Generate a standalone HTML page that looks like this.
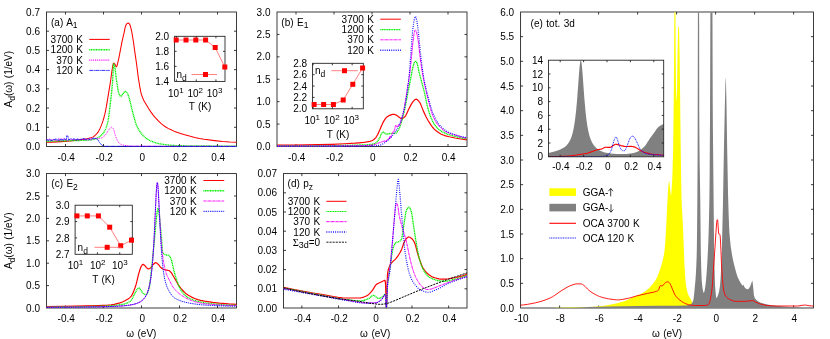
<!DOCTYPE html>
<html><head><meta charset="utf-8"><title>fig</title>
<style>html,body{margin:0;padding:0;background:#fff;}svg{display:block;will-change:transform;font-family:"Liberation Sans",sans-serif;}text{fill:#000;word-spacing:0.7px;}</style>
</head><body>
<svg width="830" height="339" viewBox="0 0 830 339">
<rect width="830" height="339" fill="#fff"/>
<rect x="46.50" y="12.00" width="190.00" height="134.50" fill="none" stroke="#1a1a1a" stroke-width="0.85"/>
<path d="M65.50,146.50 v-2.50" stroke="#1a1a1a" stroke-width="0.85"/>
<path d="M65.50,12.00 v2.50" stroke="#1a1a1a" stroke-width="0.85"/>
<text x="66.20" y="160.70" text-anchor="middle" font-size="10">-0.4</text>
<path d="M103.50,146.50 v-2.50" stroke="#1a1a1a" stroke-width="0.85"/>
<path d="M103.50,12.00 v2.50" stroke="#1a1a1a" stroke-width="0.85"/>
<text x="104.20" y="160.70" text-anchor="middle" font-size="10">-0.2</text>
<path d="M141.50,146.50 v-2.50" stroke="#1a1a1a" stroke-width="0.85"/>
<path d="M141.50,12.00 v2.50" stroke="#1a1a1a" stroke-width="0.85"/>
<text x="142.20" y="160.70" text-anchor="middle" font-size="10">0</text>
<path d="M179.50,146.50 v-2.50" stroke="#1a1a1a" stroke-width="0.85"/>
<path d="M179.50,12.00 v2.50" stroke="#1a1a1a" stroke-width="0.85"/>
<text x="180.20" y="160.70" text-anchor="middle" font-size="10">0.2</text>
<path d="M217.50,146.50 v-2.50" stroke="#1a1a1a" stroke-width="0.85"/>
<path d="M217.50,12.00 v2.50" stroke="#1a1a1a" stroke-width="0.85"/>
<text x="218.20" y="160.70" text-anchor="middle" font-size="10">0.4</text>
<text x="40.00" y="150.10" text-anchor="end" font-size="10">0.0</text>
<path d="M46.50,127.29 h2.50" stroke="#1a1a1a" stroke-width="0.85"/>
<path d="M236.50,127.29 h-2.50" stroke="#1a1a1a" stroke-width="0.85"/>
<text x="40.00" y="130.89" text-anchor="end" font-size="10">0.1</text>
<path d="M46.50,108.07 h2.50" stroke="#1a1a1a" stroke-width="0.85"/>
<path d="M236.50,108.07 h-2.50" stroke="#1a1a1a" stroke-width="0.85"/>
<text x="40.00" y="111.67" text-anchor="end" font-size="10">0.2</text>
<path d="M46.50,88.86 h2.50" stroke="#1a1a1a" stroke-width="0.85"/>
<path d="M236.50,88.86 h-2.50" stroke="#1a1a1a" stroke-width="0.85"/>
<text x="40.00" y="92.46" text-anchor="end" font-size="10">0.3</text>
<path d="M46.50,69.64 h2.50" stroke="#1a1a1a" stroke-width="0.85"/>
<path d="M236.50,69.64 h-2.50" stroke="#1a1a1a" stroke-width="0.85"/>
<text x="40.00" y="73.24" text-anchor="end" font-size="10">0.4</text>
<path d="M46.50,50.43 h2.50" stroke="#1a1a1a" stroke-width="0.85"/>
<path d="M236.50,50.43 h-2.50" stroke="#1a1a1a" stroke-width="0.85"/>
<text x="40.00" y="54.03" text-anchor="end" font-size="10">0.5</text>
<path d="M46.50,31.21 h2.50" stroke="#1a1a1a" stroke-width="0.85"/>
<path d="M236.50,31.21 h-2.50" stroke="#1a1a1a" stroke-width="0.85"/>
<text x="40.00" y="34.81" text-anchor="end" font-size="10">0.6</text>
<text x="40.00" y="15.60" text-anchor="end" font-size="10">0.7</text>
<path d="M46.50,142.27 51.49,142.12 56.95,141.86 64.79,141.36 70.25,140.94 74.76,140.51 79.04,140.00 83.31,139.39 86.88,138.78 88.78,138.36 90.68,137.82 92.57,137.12 93.53,136.65 94.47,135.98 95.66,134.93 96.85,133.65 98.04,132.17 98.99,130.59 99.94,128.65 101.12,125.88 102.07,123.43 103.03,120.63 103.74,118.27 104.69,114.73 105.40,111.74 106.35,106.71 109.91,85.14 110.86,79.04 112.05,70.01 112.76,65.93 113.24,63.71 113.47,63.16 113.71,63.13 114.19,63.40 114.66,63.83 114.90,64.12 115.14,64.55 115.85,66.13 116.09,66.52 116.33,66.74 116.56,66.70 116.80,66.34 117.04,65.73 117.51,63.95 118.70,58.79 122.03,41.67 124.16,32.27 125.11,27.66 125.35,26.77 125.83,25.50 126.54,24.10 126.77,23.83 127.49,23.31 127.96,23.11 128.20,23.09 128.68,23.26 129.15,23.69 129.62,24.27 130.10,25.24 130.57,26.79 131.29,29.64 132.00,33.07 133.43,41.79 134.85,52.16 136.51,63.50 138.41,78.40 140.07,88.48 140.79,91.96 141.26,93.84 141.98,96.01 142.93,98.42 144.11,100.92 145.30,103.03 148.62,108.49 151.00,112.10 153.38,115.32 155.51,117.84 158.60,121.09 161.21,123.56 163.82,125.70 166.20,127.29 168.10,128.36 170.00,129.33 174.04,131.14 178.31,132.73 183.78,134.46 189.48,136.09 194.70,137.41 199.45,138.42 204.20,139.23 214.65,140.61 222.72,141.50 229.85,142.04 236.50,142.27" fill="none" stroke="#ff0000" stroke-width="1.05" stroke-linejoin="round"/>
<path d="M46.50,141.31 64.31,140.77 84.26,140.36 88.54,140.12 92.34,139.71 93.76,139.45 94.95,139.10 96.14,138.62 97.56,137.89 98.99,136.99 100.41,135.92 101.84,134.70 103.03,133.53 103.97,132.23 104.69,130.96 105.40,129.43 106.11,127.63 107.06,124.79 107.78,122.31 108.49,118.52 109.44,111.31 111.34,94.75 112.05,87.98 112.76,79.30 113.24,68.22 113.47,64.30 113.71,63.93 113.95,64.18 114.42,65.07 114.66,66.02 115.14,69.15 116.33,79.13 117.51,86.95 118.22,91.10 118.70,93.11 118.94,93.79 119.65,95.26 120.12,95.98 120.36,96.21 120.60,96.34 120.84,96.34 121.08,96.23 121.55,95.79 122.74,94.08 124.16,92.20 124.64,91.65 124.88,91.47 125.11,91.37 125.35,91.36 125.83,91.53 126.54,92.10 127.25,92.90 127.49,93.31 127.96,94.44 129.39,98.83 130.34,102.46 132.24,110.50 134.38,118.57 135.56,122.65 136.51,125.19 137.70,127.68 138.89,129.87 140.07,131.77 141.26,133.41 142.45,134.80 144.11,136.45 145.77,137.89 147.44,139.12 149.57,140.39 151.95,141.46 154.80,142.54 157.65,143.38 160.03,143.88 164.30,144.50 168.57,145.02 172.61,145.40 178.31,145.71 190.90,145.88 212.99,146.06 236.50,146.12" fill="none" stroke="#00f000" stroke-width="1.35" stroke-dasharray="1.1,0.55" stroke-linejoin="round"/>
<path d="M46.50,139.05 46.74,139.48 46.98,139.54 47.21,140.04 47.69,140.32 47.93,139.90 48.16,139.95 48.40,140.17 48.64,139.95 49.11,139.19 49.59,138.86 49.83,139.19 50.06,139.75 50.78,140.36 51.01,140.29 51.25,139.59 51.49,139.76 51.73,139.74 52.20,139.44 52.44,139.82 52.67,140.05 52.91,139.87 53.39,139.22 53.62,139.47 53.86,139.43 54.10,139.57 54.57,140.96 54.81,140.91 55.05,140.51 55.52,140.17 55.76,139.81 56.00,139.65 56.24,140.31 56.47,140.42 56.71,140.18 56.95,140.53 57.19,140.44 57.42,140.55 57.66,140.48 58.14,139.71 58.38,139.46 58.61,138.68 58.85,138.28 59.09,138.77 59.33,138.77 59.56,139.45 59.80,139.85 60.04,140.63 60.28,140.13 60.51,140.02 60.99,139.09 61.23,138.80 61.94,139.48 62.18,139.78 62.41,139.18 62.65,139.45 63.12,139.07 63.36,138.76 63.60,139.09 63.84,138.70 64.08,138.76 64.31,138.66 64.55,139.39 64.79,139.18 65.03,139.65 65.26,139.74 65.74,139.53 65.98,139.81 66.21,139.23 66.45,139.29 66.92,140.11 67.16,140.37 67.40,140.77 67.64,140.88 67.88,140.90 68.11,140.14 68.59,139.93 68.83,139.66 69.06,139.63 69.30,139.78 69.54,139.15 69.78,138.93 70.01,139.38 70.49,139.00 70.96,139.37 71.20,139.20 71.44,139.35 71.67,139.33 72.15,139.69 72.86,139.51 73.10,139.74 73.81,139.06 74.05,139.42 74.29,138.95 74.52,139.21 74.76,139.31 75.47,140.06 75.71,139.83 75.95,139.95 76.42,139.45 76.66,139.67 76.90,139.78 77.14,139.32 77.38,139.19 77.61,139.16 77.85,138.86 78.09,138.93 78.32,139.47 78.80,139.46 79.04,139.97 79.28,140.07 79.51,139.94 79.75,140.10 79.99,139.70 80.22,139.47 80.46,139.09 80.70,139.01 81.17,139.16 81.41,138.88 81.65,139.25 81.89,139.10 82.12,139.34 82.60,139.63 82.84,139.33 83.08,139.74 83.31,139.47 83.55,139.51 83.79,139.28 84.03,139.56 84.26,139.37 84.50,139.42 84.74,139.68 84.97,139.29 85.21,139.12 85.45,139.48 85.69,139.09 85.93,139.03 86.16,139.56 86.64,139.14 86.88,139.55 87.11,139.42 87.35,139.53 87.59,140.10 87.83,140.22 88.06,140.15 88.30,139.77 88.54,139.59 88.78,138.81 89.01,138.35 89.25,138.43 89.49,138.68 89.96,139.89 90.20,140.28 90.68,139.89 90.91,139.54 91.15,139.44 91.86,139.70 92.10,139.46 92.34,139.49 92.57,138.65 92.81,138.33 93.05,138.40 93.29,138.60 93.53,138.48 93.76,138.89 94.00,139.15 94.24,139.00 94.71,138.28 94.95,138.03 95.43,138.03 95.66,138.28 95.90,138.71 96.14,138.51 96.38,138.57 96.61,138.18 96.85,138.15 97.09,137.93 97.33,138.09 97.56,137.95 97.80,138.62 99.46,138.36 100.89,138.05 101.84,137.78 102.55,137.43 103.26,136.94 103.97,136.35 105.64,134.71 106.35,133.72 108.49,130.13 108.96,129.48 109.91,128.41 110.39,127.90 110.86,127.50 111.34,127.30 111.58,127.29 112.05,127.46 112.76,128.02 113.24,128.57 113.47,129.05 113.95,130.39 115.38,135.52 115.85,136.89 117.51,140.80 117.99,141.70 118.46,142.40 119.17,143.09 119.89,143.67 120.84,144.30 121.55,144.65 122.74,145.02 126.06,145.63 129.15,145.99 132.00,146.12 177.84,146.27 236.50,146.31" fill="none" stroke="#ff00ff" stroke-width="1.0" stroke-dasharray="1,0.9" stroke-linejoin="round"/>
<path d="M46.50,140.33 46.74,140.11 46.98,140.01 47.21,139.59 47.45,139.77 47.69,139.63 47.93,140.29 48.16,140.05 48.40,140.30 48.64,140.38 48.88,139.74 49.11,139.45 49.35,139.84 49.83,139.69 50.06,140.30 50.30,140.28 50.78,139.70 51.01,140.35 51.25,140.57 51.49,140.36 51.96,140.94 52.20,140.01 52.44,139.97 52.67,139.77 52.91,139.72 53.15,139.50 53.39,139.68 53.62,139.08 53.86,139.41 54.10,139.56 54.57,139.53 54.81,140.01 55.29,139.24 55.52,139.08 55.76,139.10 56.00,138.73 56.47,139.63 56.71,139.95 56.95,139.93 57.19,140.16 57.42,139.65 58.14,140.19 58.38,139.74 58.61,140.22 58.85,139.92 59.33,139.95 59.56,140.55 60.04,140.04 60.28,139.60 60.51,139.58 60.75,138.70 61.23,139.77 61.46,140.06 61.70,139.88 61.94,140.28 62.18,140.29 62.65,139.21 63.12,139.78 63.60,140.02 63.84,140.21 64.31,139.47 64.55,138.75 65.03,138.75 65.50,139.51 65.74,139.78 65.98,140.00 66.21,140.08 66.45,139.54 66.69,135.81 66.92,136.03 67.16,136.01 67.40,135.83 67.64,136.33 67.88,136.40 68.11,136.28 68.35,139.55 68.59,139.61 68.83,139.55 69.06,139.89 69.30,139.50 69.54,139.45 69.78,139.54 70.01,139.41 70.25,138.91 70.49,138.95 70.72,138.68 70.96,138.91 71.44,139.07 71.91,139.49 72.15,139.59 72.39,140.04 72.62,140.02 72.86,139.89 73.10,139.86 73.58,138.58 73.81,138.77 74.05,138.72 74.76,139.11 75.00,138.91 75.24,139.08 75.47,139.05 75.71,139.68 75.95,139.72 76.19,140.34 76.42,140.27 76.66,140.05 76.90,139.23 77.14,139.15 77.38,138.79 77.61,139.27 77.85,139.04 78.09,139.84 78.32,139.72 78.56,140.08 78.80,139.72 79.04,140.01 79.28,139.60 79.51,139.81 79.75,139.47 79.99,139.66 80.46,139.55 80.70,139.57 80.94,139.33 81.41,139.32 81.65,139.13 81.89,139.27 82.12,139.28 82.36,138.82 82.60,139.20 82.84,139.02 83.08,138.49 83.55,138.58 83.79,138.04 84.03,138.79 84.26,139.00 84.50,138.96 84.97,139.44 85.21,139.25 85.45,139.70 85.69,139.98 86.16,139.91 86.40,139.78 87.11,138.79 87.35,138.78 87.59,138.92 87.83,138.92 88.06,138.60 88.30,138.99 88.54,139.17 88.78,138.97 89.01,139.12 89.25,139.15 89.49,139.49 89.73,139.03 90.20,139.10 90.44,139.21 90.68,139.07 90.91,139.25 91.15,138.94 91.39,138.76 91.62,138.89 91.86,138.25 92.34,138.66 92.57,138.42 92.81,137.96 93.05,138.28 93.53,137.84 93.76,138.51 94.00,138.43 95.19,138.50 96.38,138.70 97.09,138.92 97.33,139.10 97.80,139.67 99.46,142.36 100.89,144.09 101.60,144.86 102.31,145.42 103.03,145.74 104.21,146.14 105.16,146.30 158.12,146.38 236.50,146.40" fill="none" stroke="#0000ff" stroke-width="0.8" stroke-dasharray="4,0.5,1,0.5" stroke-linejoin="round"/>
<text x="51" y="25.8" font-size="10">(a) A<tspan font-size="8.5" dy="2.5">1</tspan></text>
<text x="83.00" y="43.00" text-anchor="end" font-size="10">3700 K</text>
<path d="M89.30,39.40 H109.70" stroke="#ff0000" stroke-width="1.05"/>
<text x="83.00" y="53.30" text-anchor="end" font-size="10">1200 K</text>
<path d="M89.30,49.70 H109.70" stroke="#00f000" stroke-width="1.5" stroke-dasharray="1.1,0.55"/>
<text x="83.00" y="63.70" text-anchor="end" font-size="10">370 K</text>
<path d="M89.30,60.10 H109.70" stroke="#ff00ff" stroke-width="1.1" stroke-dasharray="1,0.9"/>
<text x="83.00" y="74.00" text-anchor="end" font-size="10">120 K</text>
<path d="M89.30,70.40 H109.70" stroke="#0000ff" stroke-width="0.8" stroke-dasharray="4,0.5,1,0.5"/>
<rect x="174.60" y="36.30" width="50.40" height="45.10" fill="#fff" stroke="none"/>
<rect x="174.60" y="36.30" width="50.40" height="45.10" fill="none" stroke="#1a1a1a" stroke-width="0.85"/>
<path d="M176.36,81.40 v-2.00" stroke="#1a1a1a" stroke-width="0.85"/>
<path d="M176.36,36.30 v2.00" stroke="#1a1a1a" stroke-width="0.85"/>
<path d="M196.27,81.40 v-2.00" stroke="#1a1a1a" stroke-width="0.85"/>
<path d="M196.27,36.30 v2.00" stroke="#1a1a1a" stroke-width="0.85"/>
<path d="M215.93,81.40 v-2.00" stroke="#1a1a1a" stroke-width="0.85"/>
<path d="M215.93,36.30 v2.00" stroke="#1a1a1a" stroke-width="0.85"/>
<text x="169.10" y="85.00" text-anchor="end" font-size="10">1.4</text>
<path d="M174.60,66.37 h2.00" stroke="#1a1a1a" stroke-width="0.85"/>
<path d="M225.00,66.37 h-2.00" stroke="#1a1a1a" stroke-width="0.85"/>
<text x="169.10" y="69.97" text-anchor="end" font-size="10">1.6</text>
<path d="M174.60,51.33 h2.00" stroke="#1a1a1a" stroke-width="0.85"/>
<path d="M225.00,51.33 h-2.00" stroke="#1a1a1a" stroke-width="0.85"/>
<text x="169.10" y="54.93" text-anchor="end" font-size="10">1.8</text>
<text x="169.10" y="39.90" text-anchor="end" font-size="10">2.0</text>
<text x="175.80" y="97.00" text-anchor="middle" font-size="10">10<tspan font-size="8" dy="-4">1</tspan></text>
<text x="195.20" y="97.00" text-anchor="middle" font-size="10">10<tspan font-size="8" dy="-4">2</tspan></text>
<text x="214.60" y="97.00" text-anchor="middle" font-size="10">10<tspan font-size="8" dy="-4">3</tspan></text>
<text x="200.00" y="110.00" text-anchor="middle" font-size="10">T (K)</text>
<path d="M176.20,40.00 L186.00,40.00 L195.80,40.00 L205.60,40.00 L215.20,47.50 L224.80,67.00" fill="none" stroke="#ff6060" stroke-width="0.8"/>
<rect x="173.70" y="37.50" width="5" height="5" fill="#ff0000"/>
<rect x="183.50" y="37.50" width="5" height="5" fill="#ff0000"/>
<rect x="193.30" y="37.50" width="5" height="5" fill="#ff0000"/>
<rect x="203.10" y="37.50" width="5" height="5" fill="#ff0000"/>
<rect x="212.70" y="45.00" width="5" height="5" fill="#ff0000"/>
<rect x="222.30" y="64.50" width="5" height="5" fill="#ff0000"/>
<text x="176.50" y="77.50" font-size="10">n<tspan font-size="8.5" dy="3">d</tspan></text>
<path d="M191.50,74.50 H217.00" stroke="#ff6060" stroke-width="0.8"/>
<rect x="203.00" y="72.00" width="5" height="5" fill="#ff0000"/>
<rect x="277.00" y="12.00" width="190.00" height="134.50" fill="none" stroke="#1a1a1a" stroke-width="0.85"/>
<path d="M296.00,146.50 v-2.50" stroke="#1a1a1a" stroke-width="0.85"/>
<path d="M296.00,12.00 v2.50" stroke="#1a1a1a" stroke-width="0.85"/>
<text x="296.70" y="160.70" text-anchor="middle" font-size="10">-0.4</text>
<path d="M334.00,146.50 v-2.50" stroke="#1a1a1a" stroke-width="0.85"/>
<path d="M334.00,12.00 v2.50" stroke="#1a1a1a" stroke-width="0.85"/>
<text x="334.70" y="160.70" text-anchor="middle" font-size="10">-0.2</text>
<path d="M372.00,146.50 v-2.50" stroke="#1a1a1a" stroke-width="0.85"/>
<path d="M372.00,12.00 v2.50" stroke="#1a1a1a" stroke-width="0.85"/>
<text x="372.70" y="160.70" text-anchor="middle" font-size="10">0</text>
<path d="M410.00,146.50 v-2.50" stroke="#1a1a1a" stroke-width="0.85"/>
<path d="M410.00,12.00 v2.50" stroke="#1a1a1a" stroke-width="0.85"/>
<text x="410.70" y="160.70" text-anchor="middle" font-size="10">0.2</text>
<path d="M448.00,146.50 v-2.50" stroke="#1a1a1a" stroke-width="0.85"/>
<path d="M448.00,12.00 v2.50" stroke="#1a1a1a" stroke-width="0.85"/>
<text x="448.70" y="160.70" text-anchor="middle" font-size="10">0.4</text>
<text x="270.50" y="150.10" text-anchor="end" font-size="10">0.0</text>
<path d="M277.00,124.08 h2.50" stroke="#1a1a1a" stroke-width="0.85"/>
<path d="M467.00,124.08 h-2.50" stroke="#1a1a1a" stroke-width="0.85"/>
<text x="270.50" y="127.68" text-anchor="end" font-size="10">0.5</text>
<path d="M277.00,101.67 h2.50" stroke="#1a1a1a" stroke-width="0.85"/>
<path d="M467.00,101.67 h-2.50" stroke="#1a1a1a" stroke-width="0.85"/>
<text x="270.50" y="105.27" text-anchor="end" font-size="10">1.0</text>
<path d="M277.00,79.25 h2.50" stroke="#1a1a1a" stroke-width="0.85"/>
<path d="M467.00,79.25 h-2.50" stroke="#1a1a1a" stroke-width="0.85"/>
<text x="270.50" y="82.85" text-anchor="end" font-size="10">1.5</text>
<path d="M277.00,56.83 h2.50" stroke="#1a1a1a" stroke-width="0.85"/>
<path d="M467.00,56.83 h-2.50" stroke="#1a1a1a" stroke-width="0.85"/>
<text x="270.50" y="60.43" text-anchor="end" font-size="10">2.0</text>
<path d="M277.00,34.42 h2.50" stroke="#1a1a1a" stroke-width="0.85"/>
<path d="M467.00,34.42 h-2.50" stroke="#1a1a1a" stroke-width="0.85"/>
<text x="270.50" y="38.02" text-anchor="end" font-size="10">2.5</text>
<text x="270.50" y="15.60" text-anchor="end" font-size="10">3.0</text>
<path d="M277.00,145.16 294.34,145.03 318.09,144.65 331.15,144.29 344.69,143.76 354.66,143.17 359.18,142.80 363.21,142.39 365.82,142.06 367.96,141.71 369.86,141.30 371.76,140.75 372.71,140.35 373.90,139.49 375.56,137.80 376.51,136.57 377.70,134.43 380.07,129.35 382.21,124.15 382.93,122.64 384.11,120.62 385.06,119.16 386.01,117.91 386.73,117.17 387.20,116.78 388.15,116.16 389.81,115.33 392.43,114.41 393.14,114.28 393.61,114.27 394.56,114.46 396.23,115.11 398.84,116.93 400.26,118.02 400.98,118.44 401.45,118.59 401.93,118.60 402.40,118.48 403.11,118.12 403.82,117.61 404.77,116.79 405.25,116.26 405.73,115.53 406.44,114.16 408.57,109.43 410.95,104.89 412.14,102.85 412.85,101.88 414.51,100.07 415.23,99.49 415.94,99.21 416.18,99.20 416.65,99.32 417.36,99.75 418.31,100.65 419.50,102.04 419.98,102.83 420.69,104.35 423.30,110.87 426.15,116.91 428.05,120.51 430.66,124.64 432.56,127.26 434.23,129.12 436.12,130.74 438.50,132.49 440.88,133.94 443.25,135.05 445.62,135.86 449.19,136.77 455.12,137.97 459.40,138.72 467.00,139.91" fill="none" stroke="#ff0000" stroke-width="1.2" stroke-linejoin="round"/>
<path d="M277.00,145.96 307.16,145.85 341.12,145.51 351.34,145.29 360.84,144.99 366.54,144.75 370.57,144.43 372.48,144.18 373.90,143.79 374.85,143.40 375.80,142.91 376.27,142.59 376.75,142.16 377.46,141.35 378.18,140.35 379.84,137.58 381.02,134.45 381.50,133.50 382.45,132.34 382.93,132.04 383.16,132.02 383.64,132.19 384.82,133.05 385.77,133.93 386.01,134.05 386.25,134.08 387.20,134.02 389.10,133.72 391.00,133.30 395.51,133.27 395.99,133.13 396.46,132.75 397.18,131.87 398.60,129.55 399.31,128.15 400.02,126.37 400.74,124.31 402.40,118.89 403.82,113.19 405.25,106.70 407.86,92.63 410.24,80.95 412.14,70.88 412.85,67.45 413.80,64.01 414.27,62.82 414.99,61.79 415.46,61.38 415.70,61.32 415.94,61.40 416.41,61.95 417.12,63.33 417.36,64.07 419.02,71.97 420.45,77.55 422.83,86.20 424.01,90.78 424.96,94.92 427.10,105.31 428.76,111.34 430.19,115.71 431.38,118.71 433.04,122.05 434.70,124.85 435.65,126.18 436.60,127.29 437.79,128.45 439.21,129.66 440.64,130.71 442.06,131.62 443.49,132.39 445.15,133.17 447.29,134.03 449.42,134.78 451.80,135.51 454.65,136.29 460.35,137.62 467.00,138.88" fill="none" stroke="#00f000" stroke-width="1.3" stroke-dasharray="1.2,0.5" stroke-linejoin="round"/>
<path d="M277.00,146.05 317.14,146.00 353.24,145.83 360.84,145.70 367.73,145.42 372.24,145.13 373.66,144.87 375.56,144.24 379.60,142.60 383.40,141.38 385.06,140.77 385.30,141.66 385.54,142.11 385.77,141.49 386.01,141.29 386.25,141.29 386.49,140.06 386.73,140.37 386.96,139.83 387.20,139.60 387.44,139.71 387.91,140.36 388.15,140.16 388.62,139.19 388.86,138.35 389.10,138.76 389.34,138.38 389.57,137.21 389.81,138.21 390.05,136.19 390.29,137.38 390.52,137.54 390.76,136.66 391.00,137.16 391.48,134.78 391.71,134.05 391.95,133.70 392.43,133.67 392.66,132.76 392.90,132.77 393.14,131.54 393.61,132.21 393.85,131.94 394.09,130.84 394.56,129.75 394.80,128.14 395.04,128.22 395.27,126.52 395.51,125.55 395.75,125.47 395.99,125.13 396.23,125.40 396.46,125.81 396.70,126.88 396.94,127.09 397.18,126.20 397.41,126.47 397.65,126.02 398.12,125.89 398.36,124.66 398.60,124.71 398.84,124.35 399.07,125.17 399.31,125.49 399.55,125.68 400.26,124.17 400.50,122.75 401.45,119.87 402.88,114.52 403.35,112.42 404.06,108.76 405.96,97.69 409.29,76.58 409.76,73.07 410.48,66.79 411.19,60.01 412.61,45.01 413.56,36.87 414.04,33.72 414.27,32.69 414.75,30.94 414.99,30.31 415.23,29.97 415.46,29.99 415.70,30.28 416.18,31.38 416.65,32.77 417.12,34.77 417.60,37.32 418.55,43.37 420.21,57.95 421.16,64.98 422.11,71.03 423.06,76.53 424.01,81.59 424.96,86.22 426.15,91.57 427.57,97.52 430.66,109.14 431.38,111.58 432.09,113.76 432.80,115.57 433.99,118.20 435.18,120.55 436.12,122.21 437.31,124.02 438.26,125.24 439.93,127.05 441.83,128.85 443.49,130.19 445.15,131.30 446.34,131.95 448.00,132.71 449.66,133.36 451.56,134.01 462.49,137.21 464.86,137.82 467.00,138.25" fill="none" stroke="#ff00ff" stroke-width="1.0" stroke-dasharray="3,0.4,0.8,0.4" stroke-linejoin="round"/>
<path d="M277.00,146.05 357.04,146.05 371.29,145.97 374.14,145.88 376.75,145.64 379.60,145.22 380.79,144.96 381.74,144.59 383.16,143.82 384.82,142.67 388.39,139.76 389.57,138.71 391.00,137.29 392.19,135.97 393.61,134.21 394.80,132.60 395.75,131.22 396.70,129.67 397.65,127.95 398.60,126.04 400.50,121.64 401.69,118.32 403.11,113.40 403.82,110.60 404.54,107.43 405.49,102.52 406.44,96.83 407.39,90.16 408.57,80.92 409.52,71.76 411.90,39.33 412.61,31.09 413.33,25.12 413.80,21.97 414.75,17.64 414.99,16.91 415.23,16.52 415.46,16.54 415.70,16.87 416.18,18.18 416.89,20.97 417.36,23.84 418.55,33.73 420.21,51.02 421.64,63.55 422.83,72.46 424.01,79.50 425.20,85.15 429.00,100.65 430.43,105.62 431.61,109.49 432.56,112.29 433.51,114.71 434.94,117.73 436.12,120.00 437.55,122.40 438.74,124.11 439.93,125.53 441.83,127.47 443.49,128.94 445.39,130.38 447.05,131.43 448.71,132.30 450.85,133.24 453.23,134.13 456.31,135.11 461.54,136.61 464.39,137.33 467.00,137.85" fill="none" stroke="#0000ff" stroke-width="1.2" stroke-dasharray="0.9,1.3" stroke-linejoin="round"/>
<text x="281.3" y="25.8" font-size="10">(b) E<tspan font-size="8.5" dy="2.5">1</tspan></text>
<text x="374.00" y="22.80" text-anchor="end" font-size="10">3700 K</text>
<path d="M380.30,19.20 H400.90" stroke="#ff0000" stroke-width="1.0"/>
<text x="374.00" y="33.20" text-anchor="end" font-size="10">1200 K</text>
<path d="M380.30,29.60 H400.90" stroke="#00f000" stroke-width="1.1" stroke-dasharray="1.2,0.5"/>
<text x="374.00" y="43.40" text-anchor="end" font-size="10">370 K</text>
<path d="M380.30,39.80 H400.90" stroke="#ff00ff" stroke-width="0.9" stroke-dasharray="3,0.4,0.8,0.4"/>
<text x="374.00" y="53.80" text-anchor="end" font-size="10">120 K</text>
<path d="M380.30,50.20 H400.90" stroke="#0000ff" stroke-width="1.5" stroke-dasharray="0.9,1.3"/>
<rect x="312.60" y="63.30" width="50.70" height="45.50" fill="#fff" stroke="none"/>
<rect x="312.60" y="63.30" width="50.70" height="45.50" fill="none" stroke="#1a1a1a" stroke-width="0.85"/>
<path d="M313.11,108.80 v-2.00" stroke="#1a1a1a" stroke-width="0.85"/>
<path d="M313.11,63.30 v2.00" stroke="#1a1a1a" stroke-width="0.85"/>
<path d="M332.37,108.80 v-2.00" stroke="#1a1a1a" stroke-width="0.85"/>
<path d="M332.37,63.30 v2.00" stroke="#1a1a1a" stroke-width="0.85"/>
<path d="M352.15,108.80 v-2.00" stroke="#1a1a1a" stroke-width="0.85"/>
<path d="M352.15,63.30 v2.00" stroke="#1a1a1a" stroke-width="0.85"/>
<text x="307.10" y="112.40" text-anchor="end" font-size="10">2.0</text>
<path d="M312.60,97.42 h2.00" stroke="#1a1a1a" stroke-width="0.85"/>
<path d="M363.30,97.42 h-2.00" stroke="#1a1a1a" stroke-width="0.85"/>
<text x="307.10" y="101.02" text-anchor="end" font-size="10">2.2</text>
<path d="M312.60,86.05 h2.00" stroke="#1a1a1a" stroke-width="0.85"/>
<path d="M363.30,86.05 h-2.00" stroke="#1a1a1a" stroke-width="0.85"/>
<text x="307.10" y="89.65" text-anchor="end" font-size="10">2.4</text>
<path d="M312.60,74.67 h2.00" stroke="#1a1a1a" stroke-width="0.85"/>
<path d="M363.30,74.67 h-2.00" stroke="#1a1a1a" stroke-width="0.85"/>
<text x="307.10" y="78.27" text-anchor="end" font-size="10">2.6</text>
<text x="307.10" y="66.90" text-anchor="end" font-size="10">2.8</text>
<text x="312.20" y="124.00" text-anchor="middle" font-size="10">10<tspan font-size="8" dy="-4">1</tspan></text>
<text x="331.80" y="124.00" text-anchor="middle" font-size="10">10<tspan font-size="8" dy="-4">2</tspan></text>
<text x="351.20" y="124.00" text-anchor="middle" font-size="10">10<tspan font-size="8" dy="-4">3</tspan></text>
<text x="338.00" y="137.70" text-anchor="middle" font-size="10">T (K)</text>
<path d="M314.10,104.50 L323.60,104.50 L333.40,104.50 L343.20,100.00 L352.80,84.30 L362.60,68.00" fill="none" stroke="#ff6060" stroke-width="0.8"/>
<rect x="311.60" y="102.00" width="5" height="5" fill="#ff0000"/>
<rect x="321.10" y="102.00" width="5" height="5" fill="#ff0000"/>
<rect x="330.90" y="102.00" width="5" height="5" fill="#ff0000"/>
<rect x="340.70" y="97.50" width="5" height="5" fill="#ff0000"/>
<rect x="350.30" y="81.80" width="5" height="5" fill="#ff0000"/>
<rect x="360.10" y="65.50" width="5" height="5" fill="#ff0000"/>
<text x="315.00" y="73.50" font-size="10">n<tspan font-size="8.5" dy="3">d</tspan></text>
<path d="M331.40,70.70 H357.70" stroke="#ff6060" stroke-width="0.8"/>
<rect x="342.00" y="68.20" width="5" height="5" fill="#ff0000"/>
<rect x="46.50" y="173.60" width="190.00" height="134.40" fill="none" stroke="#1a1a1a" stroke-width="0.85"/>
<path d="M65.50,308.00 v-2.50" stroke="#1a1a1a" stroke-width="0.85"/>
<path d="M65.50,173.60 v2.50" stroke="#1a1a1a" stroke-width="0.85"/>
<text x="66.20" y="321.60" text-anchor="middle" font-size="10">-0.4</text>
<path d="M103.50,308.00 v-2.50" stroke="#1a1a1a" stroke-width="0.85"/>
<path d="M103.50,173.60 v2.50" stroke="#1a1a1a" stroke-width="0.85"/>
<text x="104.20" y="321.60" text-anchor="middle" font-size="10">-0.2</text>
<path d="M141.50,308.00 v-2.50" stroke="#1a1a1a" stroke-width="0.85"/>
<path d="M141.50,173.60 v2.50" stroke="#1a1a1a" stroke-width="0.85"/>
<text x="142.20" y="321.60" text-anchor="middle" font-size="10">0</text>
<path d="M179.50,308.00 v-2.50" stroke="#1a1a1a" stroke-width="0.85"/>
<path d="M179.50,173.60 v2.50" stroke="#1a1a1a" stroke-width="0.85"/>
<text x="180.20" y="321.60" text-anchor="middle" font-size="10">0.2</text>
<path d="M217.50,308.00 v-2.50" stroke="#1a1a1a" stroke-width="0.85"/>
<path d="M217.50,173.60 v2.50" stroke="#1a1a1a" stroke-width="0.85"/>
<text x="218.20" y="321.60" text-anchor="middle" font-size="10">0.4</text>
<text x="40.00" y="311.60" text-anchor="end" font-size="10">0.0</text>
<path d="M46.50,285.60 h2.50" stroke="#1a1a1a" stroke-width="0.85"/>
<path d="M236.50,285.60 h-2.50" stroke="#1a1a1a" stroke-width="0.85"/>
<text x="40.00" y="289.20" text-anchor="end" font-size="10">0.5</text>
<path d="M46.50,263.20 h2.50" stroke="#1a1a1a" stroke-width="0.85"/>
<path d="M236.50,263.20 h-2.50" stroke="#1a1a1a" stroke-width="0.85"/>
<text x="40.00" y="266.80" text-anchor="end" font-size="10">1.0</text>
<path d="M46.50,240.80 h2.50" stroke="#1a1a1a" stroke-width="0.85"/>
<path d="M236.50,240.80 h-2.50" stroke="#1a1a1a" stroke-width="0.85"/>
<text x="40.00" y="244.40" text-anchor="end" font-size="10">1.5</text>
<path d="M46.50,218.40 h2.50" stroke="#1a1a1a" stroke-width="0.85"/>
<path d="M236.50,218.40 h-2.50" stroke="#1a1a1a" stroke-width="0.85"/>
<text x="40.00" y="222.00" text-anchor="end" font-size="10">2.0</text>
<path d="M46.50,196.00 h2.50" stroke="#1a1a1a" stroke-width="0.85"/>
<path d="M236.50,196.00 h-2.50" stroke="#1a1a1a" stroke-width="0.85"/>
<text x="40.00" y="199.60" text-anchor="end" font-size="10">2.5</text>
<text x="40.00" y="177.20" text-anchor="end" font-size="10">3.0</text>
<path d="M46.50,306.66 63.84,306.42 85.93,305.95 98.28,305.60 107.78,305.20 111.10,304.92 114.19,304.37 118.94,303.20 120.60,302.67 122.26,302.05 123.45,301.53 124.88,300.78 127.96,298.95 129.15,298.16 130.10,297.37 130.81,296.64 131.29,296.02 132.00,294.87 132.95,292.95 133.90,290.67 135.09,287.47 136.04,284.68 136.75,281.97 138.41,274.80 138.89,273.09 140.31,268.54 140.79,267.28 141.26,266.27 142.21,264.91 142.69,264.47 142.93,264.37 143.16,264.38 143.64,264.57 144.11,264.92 145.06,265.80 146.49,267.66 147.44,268.56 147.91,268.87 148.15,268.93 148.62,268.89 149.57,268.53 150.76,267.80 151.24,267.27 152.66,265.05 153.14,264.45 154.80,263.08 155.28,262.83 155.75,262.71 155.99,262.72 156.46,262.87 157.41,263.57 158.60,264.72 160.03,266.68 160.50,267.23 161.69,268.31 162.40,268.81 163.35,269.22 164.54,269.60 165.96,269.95 167.86,270.29 168.81,270.53 169.29,270.75 170.00,271.32 171.43,272.94 172.14,273.93 178.31,284.74 179.50,286.56 180.93,288.35 183.54,291.26 184.96,292.65 186.15,293.69 187.34,294.60 188.29,295.23 191.61,297.10 194.70,298.54 197.79,299.67 200.64,300.44 204.44,301.16 212.75,302.34 219.40,303.11 228.66,303.92 236.50,304.42" fill="none" stroke="#ff0000" stroke-width="1.2" stroke-linejoin="round"/>
<path d="M46.50,307.10 60.51,307.00 77.38,306.77 93.53,306.49 103.03,306.23 108.72,305.95 113.95,305.54 118.94,304.96 123.21,304.28 125.35,303.71 127.49,302.85 129.62,301.65 130.57,300.99 131.05,300.57 131.53,299.96 132.24,298.76 134.38,294.40 136.75,289.96 137.23,289.29 138.18,288.26 138.65,287.93 138.89,287.88 139.12,287.94 139.36,288.11 139.84,288.66 141.03,290.31 142.21,292.31 142.93,293.19 144.11,294.00 145.06,294.47 146.01,294.69 146.25,294.68 146.49,294.57 146.72,294.35 147.20,293.62 147.68,292.56 148.15,291.22 149.34,287.05 149.81,284.25 150.52,278.25 151.95,264.81 154.32,240.96 156.23,219.98 156.70,215.34 157.41,210.47 157.65,209.22 157.89,208.46 158.12,208.38 158.36,209.02 158.60,210.19 159.31,214.95 159.55,217.05 161.69,240.58 162.40,250.82 162.64,252.38 163.11,253.12 163.59,253.68 164.06,254.10 164.54,254.40 165.96,254.93 168.10,255.28 169.05,255.59 169.29,255.79 169.76,256.40 170.47,257.68 171.19,259.27 171.66,260.85 173.80,270.27 175.46,276.22 176.89,280.69 178.55,285.12 179.97,288.43 180.69,289.79 181.16,290.55 182.83,292.79 184.25,294.44 185.68,295.84 187.10,296.99 188.29,297.75 190.66,298.95 193.28,300.03 195.89,300.91 198.74,301.67 201.82,302.32 205.39,302.95 208.95,303.46 212.51,303.86 220.59,304.55 226.53,304.97 231.75,305.22 236.50,305.31" fill="none" stroke="#00f000" stroke-width="1.35" stroke-dasharray="1.1,0.55" stroke-linejoin="round"/>
<path d="M46.50,307.21 76.19,307.08 98.04,306.82 113.24,306.42 118.94,306.15 123.69,305.83 127.72,305.43 131.05,304.94 133.90,304.35 136.51,303.61 138.65,302.77 140.55,301.77 142.21,300.59 143.64,299.19 144.35,298.32 145.06,297.30 146.25,295.19 147.44,292.43 148.39,289.57 149.34,285.89 150.05,282.43 150.76,278.16 151.47,272.84 152.19,266.16 152.66,260.78 153.61,247.15 154.32,234.03 155.75,202.76 156.46,189.38 156.94,183.99 157.18,182.76 157.41,182.58 157.65,183.44 157.89,185.27 158.36,191.40 160.03,223.08 160.98,238.65 161.45,244.76 161.93,249.86 162.40,254.10 162.88,257.66 163.59,262.10 164.54,267.05 165.25,270.06 166.20,273.22 166.91,275.11 167.62,276.70 171.43,284.28 172.38,286.02 173.09,287.18 173.80,288.18 174.75,289.33 175.94,290.65 177.12,291.85 179.26,293.73 181.88,295.61 185.20,297.66 188.29,299.27 191.38,300.57 194.70,301.62 198.26,302.56 201.59,303.26 204.44,303.70 208.00,304.06 215.36,304.67 222.49,305.12 229.61,305.41 236.50,305.53" fill="none" stroke="#ff00ff" stroke-width="0.9" stroke-dasharray="3,0.4,0.8,0.4" stroke-linejoin="round"/>
<path d="M46.50,307.34 75.24,307.19 97.56,306.88 105.88,306.68 113.00,306.43 118.94,306.13 123.69,305.78 127.72,305.35 131.05,304.83 133.90,304.23 136.51,303.45 138.89,302.48 140.79,301.42 142.45,300.18 143.88,298.77 144.59,297.90 145.30,296.89 146.49,294.80 147.44,292.65 148.39,289.90 149.34,286.34 150.05,282.95 150.76,278.73 151.47,273.43 152.19,266.73 152.66,261.30 153.61,247.49 154.56,229.20 155.99,197.50 156.46,189.06 156.70,185.96 156.94,183.80 157.18,182.69 157.41,182.69 157.65,183.77 157.89,185.87 158.36,192.66 160.03,227.16 160.98,244.37 161.93,257.45 162.88,267.07 163.35,270.85 164.06,275.52 164.78,279.24 165.73,283.09 166.68,286.03 167.62,288.34 168.81,290.66 170.24,293.07 171.66,295.12 173.09,296.76 174.51,297.93 176.41,299.09 178.79,300.18 181.88,301.27 185.20,302.20 188.76,302.99 192.33,303.62 197.07,304.30 201.11,304.77 204.91,305.09 212.75,305.53 220.82,305.86 228.90,306.09 236.50,306.19" fill="none" stroke="#0000ff" stroke-width="0.9" stroke-dasharray="1.4,0.8" stroke-linejoin="round"/>
<text x="51.3" y="187" font-size="10">(c) E<tspan font-size="8.5" dy="2.5">2</tspan></text>
<text x="196.70" y="184.10" text-anchor="end" font-size="10">3700 K</text>
<path d="M203.40,180.50 H224.20" stroke="#ff0000" stroke-width="1.05"/>
<text x="196.70" y="194.40" text-anchor="end" font-size="10">1200 K</text>
<path d="M203.40,190.80 H224.20" stroke="#00f000" stroke-width="1.5" stroke-dasharray="1.1,0.55"/>
<text x="196.70" y="204.60" text-anchor="end" font-size="10">370 K</text>
<path d="M203.40,201.00 H224.20" stroke="#ff00ff" stroke-width="0.9" stroke-dasharray="3,0.4,0.8,0.4"/>
<text x="196.70" y="214.90" text-anchor="end" font-size="10">120 K</text>
<path d="M203.40,211.30 H224.20" stroke="#0000ff" stroke-width="0.9" stroke-dasharray="1.4,0.8"/>
<rect x="75.10" y="205.20" width="57.20" height="49.10" fill="#fff" stroke="none"/>
<rect x="75.10" y="205.20" width="57.20" height="49.10" fill="none" stroke="#1a1a1a" stroke-width="0.85"/>
<path d="M97.41,254.30 v-2.00" stroke="#1a1a1a" stroke-width="0.85"/>
<path d="M97.41,205.20 v2.00" stroke="#1a1a1a" stroke-width="0.85"/>
<path d="M119.72,254.30 v-2.00" stroke="#1a1a1a" stroke-width="0.85"/>
<path d="M119.72,205.20 v2.00" stroke="#1a1a1a" stroke-width="0.85"/>
<text x="69.60" y="257.90" text-anchor="end" font-size="10">2.7</text>
<path d="M75.10,237.93 h2.00" stroke="#1a1a1a" stroke-width="0.85"/>
<path d="M132.30,237.93 h-2.00" stroke="#1a1a1a" stroke-width="0.85"/>
<text x="69.60" y="241.53" text-anchor="end" font-size="10">2.8</text>
<path d="M75.10,221.57 h2.00" stroke="#1a1a1a" stroke-width="0.85"/>
<path d="M132.30,221.57 h-2.00" stroke="#1a1a1a" stroke-width="0.85"/>
<text x="69.60" y="225.17" text-anchor="end" font-size="10">2.9</text>
<text x="69.60" y="208.80" text-anchor="end" font-size="10">3.0</text>
<text x="75.50" y="269.00" text-anchor="middle" font-size="10">10<tspan font-size="8" dy="-4">1</tspan></text>
<text x="97.70" y="269.00" text-anchor="middle" font-size="10">10<tspan font-size="8" dy="-4">2</tspan></text>
<text x="119.80" y="269.00" text-anchor="middle" font-size="10">10<tspan font-size="8" dy="-4">3</tspan></text>
<text x="103.50" y="283.40" text-anchor="middle" font-size="10">T (K)</text>
<path d="M76.90,215.90 L87.30,215.90 L98.40,215.90 L109.70,227.20 L120.70,245.70 L131.50,240.20" fill="none" stroke="#ff6060" stroke-width="0.8"/>
<rect x="74.40" y="213.40" width="5" height="5" fill="#ff0000"/>
<rect x="84.80" y="213.40" width="5" height="5" fill="#ff0000"/>
<rect x="95.90" y="213.40" width="5" height="5" fill="#ff0000"/>
<rect x="107.20" y="224.70" width="5" height="5" fill="#ff0000"/>
<rect x="118.20" y="243.20" width="5" height="5" fill="#ff0000"/>
<rect x="129.00" y="237.70" width="5" height="5" fill="#ff0000"/>
<text x="77.60" y="250.50" font-size="10">n<tspan font-size="8.5" dy="3">d</tspan></text>
<path d="M94.50,247.30 H121.50" stroke="#ff6060" stroke-width="0.8"/>
<rect x="104.70" y="244.80" width="5" height="5" fill="#ff0000"/>
<rect x="283.50" y="173.60" width="183.50" height="134.40" fill="none" stroke="#1a1a1a" stroke-width="0.85"/>
<path d="M301.85,308.00 v-2.50" stroke="#1a1a1a" stroke-width="0.85"/>
<path d="M301.85,173.60 v2.50" stroke="#1a1a1a" stroke-width="0.85"/>
<text x="302.55" y="321.60" text-anchor="middle" font-size="10">-0.4</text>
<path d="M338.55,308.00 v-2.50" stroke="#1a1a1a" stroke-width="0.85"/>
<path d="M338.55,173.60 v2.50" stroke="#1a1a1a" stroke-width="0.85"/>
<text x="339.25" y="321.60" text-anchor="middle" font-size="10">-0.2</text>
<path d="M375.25,308.00 v-2.50" stroke="#1a1a1a" stroke-width="0.85"/>
<path d="M375.25,173.60 v2.50" stroke="#1a1a1a" stroke-width="0.85"/>
<text x="375.95" y="321.60" text-anchor="middle" font-size="10">0</text>
<path d="M411.95,308.00 v-2.50" stroke="#1a1a1a" stroke-width="0.85"/>
<path d="M411.95,173.60 v2.50" stroke="#1a1a1a" stroke-width="0.85"/>
<text x="412.65" y="321.60" text-anchor="middle" font-size="10">0.2</text>
<path d="M448.65,308.00 v-2.50" stroke="#1a1a1a" stroke-width="0.85"/>
<path d="M448.65,173.60 v2.50" stroke="#1a1a1a" stroke-width="0.85"/>
<text x="449.35" y="321.60" text-anchor="middle" font-size="10">0.4</text>
<text x="277.00" y="311.60" text-anchor="end" font-size="10">0.00</text>
<path d="M283.50,288.80 h2.50" stroke="#1a1a1a" stroke-width="0.85"/>
<path d="M467.00,288.80 h-2.50" stroke="#1a1a1a" stroke-width="0.85"/>
<text x="277.00" y="292.40" text-anchor="end" font-size="10">0.01</text>
<path d="M283.50,269.60 h2.50" stroke="#1a1a1a" stroke-width="0.85"/>
<path d="M467.00,269.60 h-2.50" stroke="#1a1a1a" stroke-width="0.85"/>
<text x="277.00" y="273.20" text-anchor="end" font-size="10">0.02</text>
<path d="M283.50,250.40 h2.50" stroke="#1a1a1a" stroke-width="0.85"/>
<path d="M467.00,250.40 h-2.50" stroke="#1a1a1a" stroke-width="0.85"/>
<text x="277.00" y="254.00" text-anchor="end" font-size="10">0.03</text>
<path d="M283.50,231.20 h2.50" stroke="#1a1a1a" stroke-width="0.85"/>
<path d="M467.00,231.20 h-2.50" stroke="#1a1a1a" stroke-width="0.85"/>
<text x="277.00" y="234.80" text-anchor="end" font-size="10">0.04</text>
<path d="M283.50,212.00 h2.50" stroke="#1a1a1a" stroke-width="0.85"/>
<path d="M467.00,212.00 h-2.50" stroke="#1a1a1a" stroke-width="0.85"/>
<text x="277.00" y="215.60" text-anchor="end" font-size="10">0.05</text>
<path d="M283.50,192.80 h2.50" stroke="#1a1a1a" stroke-width="0.85"/>
<path d="M467.00,192.80 h-2.50" stroke="#1a1a1a" stroke-width="0.85"/>
<text x="277.00" y="196.40" text-anchor="end" font-size="10">0.06</text>
<text x="277.00" y="177.20" text-anchor="end" font-size="10">0.07</text>
<path d="M283.50,287.26 294.28,289.51 305.06,291.58 313.09,293.00 322.95,294.64 333.27,296.53 338.09,297.28 342.45,297.78 346.35,298.00 353.23,297.98 360.34,297.81 361.95,297.57 363.78,297.05 366.30,296.05 367.45,295.38 368.37,294.66 369.29,293.82 371.58,291.43 372.73,289.83 375.02,286.12 375.71,285.20 376.40,284.49 377.31,283.86 378.46,283.25 383.74,280.78 384.65,280.41 384.88,280.40 385.11,280.71 385.34,281.95 385.57,285.23 386.26,306.55 386.49,307.52 386.72,301.65 387.18,282.39 387.41,276.15 387.64,273.07 387.87,271.52 388.32,269.76 389.01,267.71 389.70,266.01 390.39,264.62 391.08,263.50 391.76,262.60 392.45,261.86 394.98,259.67 396.12,258.45 397.96,255.98 399.79,253.03 400.94,250.88 401.63,249.39 403.46,243.99 404.15,242.21 405.53,239.70 406.22,238.72 406.67,238.23 407.82,237.36 408.28,237.11 408.74,236.97 409.20,236.99 409.89,237.23 411.26,238.14 411.95,238.74 412.64,239.53 413.33,240.49 414.01,241.62 414.47,242.52 414.93,243.69 415.62,245.84 417.68,253.50 418.60,256.63 421.12,263.83 422.04,266.08 422.73,267.47 423.65,268.96 424.57,270.28 425.48,271.44 426.40,272.46 428.01,273.94 429.38,275.00 430.76,275.95 432.13,276.75 433.51,277.38 434.66,277.76 437.18,278.44 439.02,278.84 440.62,279.08 442.23,279.20 443.83,279.17 445.90,279.03 448.42,278.73 453.47,277.95 455.99,277.49 458.51,276.92 461.27,276.20 464.02,275.38 467.00,274.40" fill="none" stroke="#ff0000" stroke-width="1.2" stroke-linejoin="round"/>
<path d="M283.50,288.03 321.58,295.20 334.42,297.81 339.47,298.76 343.14,299.35 346.35,299.78 353.00,300.49 356.44,300.78 359.19,300.89 361.03,300.85 362.86,300.56 364.93,300.00 368.60,298.64 369.52,298.00 371.81,295.99 372.50,295.56 373.19,295.34 373.87,295.40 374.56,295.73 375.25,296.23 376.86,297.62 377.77,298.21 378.46,298.40 379.38,298.30 380.07,298.10 380.75,297.80 382.82,296.59 383.51,296.02 384.88,294.42 385.11,294.29 385.34,294.64 385.57,296.09 386.26,307.19 386.49,307.73 386.72,304.28 387.41,287.04 387.64,283.74 387.87,281.53 389.93,267.33 392.22,252.23 392.68,249.71 393.14,248.02 394.06,245.60 394.75,244.17 395.44,243.12 395.89,242.67 396.35,242.41 397.04,242.17 398.65,241.79 399.56,241.38 400.48,240.66 400.94,240.12 401.40,239.39 401.86,237.73 402.32,235.16 405.30,215.41 405.99,211.72 406.44,210.27 407.36,208.59 407.82,207.93 408.28,207.46 408.74,207.22 408.97,207.20 409.20,207.28 409.43,207.46 409.66,207.73 410.12,208.51 411.03,210.73 411.49,212.23 411.95,214.73 413.10,222.81 415.62,239.39 417.91,252.20 418.83,256.62 419.52,259.44 420.21,261.77 421.12,264.54 422.04,266.96 422.96,269.04 423.65,270.36 424.80,272.22 425.94,273.86 426.86,275.00 428.24,276.40 429.38,277.24 431.68,278.52 433.97,279.49 436.03,280.09 439.70,280.83 442.23,281.18 444.52,281.31 445.90,281.26 447.27,281.09 448.88,280.78 450.71,280.33 456.91,278.67 459.66,277.88 463.33,276.68 467.00,275.36" fill="none" stroke="#00f000" stroke-width="1.3" stroke-dasharray="1.2,0.5" stroke-linejoin="round"/>
<path d="M283.50,288.42 304.60,292.42 338.09,298.66 349.33,300.59 358.28,302.27 361.26,302.70 363.78,302.93 365.62,303.00 367.91,303.00 374.33,302.85 375.94,302.74 377.09,302.42 378.00,302.02 378.92,301.52 380.30,300.64 381.21,299.95 382.36,298.64 384.65,295.18 384.88,294.88 385.11,294.73 385.34,295.02 385.57,296.37 385.80,299.33 386.26,307.19 386.49,307.73 386.72,304.22 387.41,285.97 387.64,282.49 388.10,278.63 389.24,271.54 389.93,266.72 391.08,256.47 392.68,239.19 393.83,224.36 394.75,213.38 395.21,208.78 395.66,205.93 396.12,203.78 396.35,203.15 396.58,202.98 396.81,203.19 397.04,203.65 397.50,205.07 397.96,206.84 399.11,214.84 400.25,220.18 402.55,228.56 405.07,236.56 405.99,239.82 406.90,243.78 409.43,256.10 411.26,263.89 412.41,268.12 413.56,271.62 414.47,274.15 415.39,276.43 416.31,278.41 417.45,280.51 418.83,282.77 419.98,284.40 421.12,285.75 421.81,286.41 424.11,288.29 425.25,289.03 426.17,289.42 426.86,289.56 428.01,289.53 429.38,289.35 431.22,288.99 433.05,288.44 436.03,287.20 444.29,283.94 449.11,282.15 458.51,279.02 462.87,277.69 467.00,276.51" fill="none" stroke="#ff00ff" stroke-width="1.0" stroke-dasharray="3,0.4,0.8,0.4" stroke-linejoin="round"/>
<path d="M283.50,289.18 320.66,295.79 342.22,299.80 349.56,301.00 358.05,302.49 361.26,302.92 364.01,303.14 365.85,303.20 368.83,303.18 375.25,303.01 376.17,302.88 377.09,302.58 378.00,302.15 378.92,301.61 380.53,300.49 381.21,299.91 381.67,299.39 382.36,298.45 384.65,294.80 384.88,294.52 385.11,294.40 385.34,294.74 385.57,296.16 386.26,307.19 386.49,307.73 386.72,304.28 387.41,287.27 387.64,284.24 388.10,281.01 389.24,275.25 389.70,272.54 390.39,266.97 391.08,259.30 392.45,241.88 395.21,209.58 396.58,192.30 397.04,187.52 397.73,181.38 397.96,179.93 398.19,179.36 398.42,179.84 398.65,181.14 399.11,185.33 400.02,195.15 401.40,212.64 403.23,230.91 404.38,246.26 404.84,250.27 405.53,255.22 406.44,260.58 407.59,266.47 408.51,270.52 409.20,273.01 410.34,276.21 411.49,278.91 412.87,281.60 414.24,283.77 415.85,285.80 417.45,287.57 418.83,288.83 420.21,289.79 422.96,291.04 425.25,291.84 426.40,292.10 427.32,292.22 428.24,292.25 429.15,292.18 430.53,291.89 431.91,291.44 437.64,289.02 440.16,287.77 446.81,284.13 448.42,283.38 451.40,282.14 455.76,280.45 459.66,279.07 463.33,277.90 467.00,276.90" fill="none" stroke="#0000ff" stroke-width="1.2" stroke-dasharray="0.9,1.3" stroke-linejoin="round"/>
<path d="M283.50,287.84 294.74,290.42 306.21,292.84 317.91,295.10 329.60,297.15 341.30,299.00 355.06,300.77 359.88,301.45 368.60,303.02 371.35,303.45 378.00,304.24 380.30,304.35 381.90,304.30 383.74,304.07 386.72,303.52 388.10,303.16 389.70,302.62 395.66,300.26 400.94,297.96 417.23,291.09 429.61,286.17 438.56,282.79 448.19,279.30 457.83,275.94 467.00,272.86" fill="none" stroke="#000" stroke-width="1.0" stroke-dasharray="2.1,1.0" stroke-linejoin="round"/>
<text x="287.6" y="187" font-size="10">(d) p<tspan font-size="8.5" dy="2.5">z</tspan></text>
<text x="320.20" y="204.90" text-anchor="end" font-size="10">3700 K</text>
<path d="M326.40,201.30 H346.50" stroke="#ff0000" stroke-width="1.0"/>
<text x="320.20" y="215.10" text-anchor="end" font-size="10">1200 K</text>
<path d="M326.40,211.50 H346.50" stroke="#00f000" stroke-width="1.1" stroke-dasharray="1.2,0.5"/>
<text x="320.20" y="225.30" text-anchor="end" font-size="10">370 K</text>
<path d="M326.40,221.70 H346.50" stroke="#ff00ff" stroke-width="1.0" stroke-dasharray="3,0.4,0.8,0.4"/>
<text x="320.20" y="235.60" text-anchor="end" font-size="10">120 K</text>
<path d="M326.40,232.00 H346.50" stroke="#0000ff" stroke-width="1.5" stroke-dasharray="0.9,1.3"/>
<text x="320.20" y="245.80" text-anchor="end" font-size="10"><tspan font-family="Liberation Serif" font-size="10.5">&#931;</tspan><tspan font-size="9" dy="2.5">3d</tspan><tspan dy="-2.5">=0</tspan></text>
<path d="M326.40,242.20 H346.50" stroke="#000" stroke-width="0.9" stroke-dasharray="2.1,1.0"/>
<clipPath id="ce"><rect x="520.60" y="12.30" width="292.90" height="296.20"/></clipPath>
<rect x="520.60" y="12.00" width="292.90" height="296.00" fill="none" stroke="#1a1a1a" stroke-width="0.85"/>
<text x="521.30" y="321.60" text-anchor="middle" font-size="10">-10</text>
<path d="M559.60,308.00 v-2.50" stroke="#1a1a1a" stroke-width="0.85"/>
<path d="M559.60,12.00 v2.50" stroke="#1a1a1a" stroke-width="0.85"/>
<text x="560.30" y="321.60" text-anchor="middle" font-size="10">-8</text>
<path d="M598.60,308.00 v-2.50" stroke="#1a1a1a" stroke-width="0.85"/>
<path d="M598.60,12.00 v2.50" stroke="#1a1a1a" stroke-width="0.85"/>
<text x="599.30" y="321.60" text-anchor="middle" font-size="10">-6</text>
<path d="M637.60,308.00 v-2.50" stroke="#1a1a1a" stroke-width="0.85"/>
<path d="M637.60,12.00 v2.50" stroke="#1a1a1a" stroke-width="0.85"/>
<text x="638.30" y="321.60" text-anchor="middle" font-size="10">-4</text>
<path d="M676.61,308.00 v-2.50" stroke="#1a1a1a" stroke-width="0.85"/>
<path d="M676.61,12.00 v2.50" stroke="#1a1a1a" stroke-width="0.85"/>
<text x="677.31" y="321.60" text-anchor="middle" font-size="10">-2</text>
<path d="M715.61,308.00 v-2.50" stroke="#1a1a1a" stroke-width="0.85"/>
<path d="M715.61,12.00 v2.50" stroke="#1a1a1a" stroke-width="0.85"/>
<text x="716.31" y="321.60" text-anchor="middle" font-size="10">0</text>
<path d="M754.61,308.00 v-2.50" stroke="#1a1a1a" stroke-width="0.85"/>
<path d="M754.61,12.00 v2.50" stroke="#1a1a1a" stroke-width="0.85"/>
<text x="755.31" y="321.60" text-anchor="middle" font-size="10">2</text>
<path d="M793.61,308.00 v-2.50" stroke="#1a1a1a" stroke-width="0.85"/>
<path d="M793.61,12.00 v2.50" stroke="#1a1a1a" stroke-width="0.85"/>
<text x="794.31" y="321.60" text-anchor="middle" font-size="10">4</text>
<text x="514.10" y="311.60" text-anchor="end" font-size="10">0.0</text>
<path d="M520.60,283.33 h2.50" stroke="#1a1a1a" stroke-width="0.85"/>
<path d="M813.50,283.33 h-2.50" stroke="#1a1a1a" stroke-width="0.85"/>
<text x="514.10" y="286.93" text-anchor="end" font-size="10">0.5</text>
<path d="M520.60,258.67 h2.50" stroke="#1a1a1a" stroke-width="0.85"/>
<path d="M813.50,258.67 h-2.50" stroke="#1a1a1a" stroke-width="0.85"/>
<text x="514.10" y="262.27" text-anchor="end" font-size="10">1.0</text>
<path d="M520.60,234.00 h2.50" stroke="#1a1a1a" stroke-width="0.85"/>
<path d="M813.50,234.00 h-2.50" stroke="#1a1a1a" stroke-width="0.85"/>
<text x="514.10" y="237.60" text-anchor="end" font-size="10">1.5</text>
<path d="M520.60,209.33 h2.50" stroke="#1a1a1a" stroke-width="0.85"/>
<path d="M813.50,209.33 h-2.50" stroke="#1a1a1a" stroke-width="0.85"/>
<text x="514.10" y="212.93" text-anchor="end" font-size="10">2.0</text>
<path d="M520.60,184.67 h2.50" stroke="#1a1a1a" stroke-width="0.85"/>
<path d="M813.50,184.67 h-2.50" stroke="#1a1a1a" stroke-width="0.85"/>
<text x="514.10" y="188.27" text-anchor="end" font-size="10">2.5</text>
<path d="M520.60,160.00 h2.50" stroke="#1a1a1a" stroke-width="0.85"/>
<path d="M813.50,160.00 h-2.50" stroke="#1a1a1a" stroke-width="0.85"/>
<text x="514.10" y="163.60" text-anchor="end" font-size="10">3.0</text>
<path d="M520.60,135.33 h2.50" stroke="#1a1a1a" stroke-width="0.85"/>
<path d="M813.50,135.33 h-2.50" stroke="#1a1a1a" stroke-width="0.85"/>
<text x="514.10" y="138.93" text-anchor="end" font-size="10">3.5</text>
<path d="M520.60,110.67 h2.50" stroke="#1a1a1a" stroke-width="0.85"/>
<path d="M813.50,110.67 h-2.50" stroke="#1a1a1a" stroke-width="0.85"/>
<text x="514.10" y="114.27" text-anchor="end" font-size="10">4.0</text>
<path d="M520.60,86.00 h2.50" stroke="#1a1a1a" stroke-width="0.85"/>
<path d="M813.50,86.00 h-2.50" stroke="#1a1a1a" stroke-width="0.85"/>
<text x="514.10" y="89.60" text-anchor="end" font-size="10">4.5</text>
<path d="M520.60,61.33 h2.50" stroke="#1a1a1a" stroke-width="0.85"/>
<path d="M813.50,61.33 h-2.50" stroke="#1a1a1a" stroke-width="0.85"/>
<text x="514.10" y="64.93" text-anchor="end" font-size="10">5.0</text>
<path d="M520.60,36.67 h2.50" stroke="#1a1a1a" stroke-width="0.85"/>
<path d="M813.50,36.67 h-2.50" stroke="#1a1a1a" stroke-width="0.85"/>
<text x="514.10" y="40.27" text-anchor="end" font-size="10">5.5</text>
<text x="514.10" y="15.60" text-anchor="end" font-size="10">6.0</text>
<g clip-path="url(#ce)">
<path d="M520.60,308.00 552.53,308.00 558.77,307.79 575.76,307.47 583.57,307.24 593.04,306.73 602.12,305.99 607.10,305.33 612.38,304.33 615.89,303.52 619.70,302.53 623.60,301.42 625.65,300.70 628.29,299.59 634.34,296.70 640.01,294.16 641.96,293.20 643.62,292.29 645.47,291.12 646.94,290.02 648.69,288.45 650.55,286.57 652.31,284.60 653.77,282.74 655.14,280.72 656.31,278.70 657.38,276.44 658.65,273.31 660.31,268.70 661.39,265.34 662.36,261.76 663.44,257.20 664.02,254.13 664.51,250.86 664.80,248.32 665.10,244.81 665.88,232.46 666.27,225.42 667.15,206.25 668.03,190.46 668.32,186.60 668.91,181.73 669.00,181.35 669.10,181.21 669.20,181.35 669.39,182.28 670.08,188.00 670.66,194.21 670.86,195.37 670.96,195.52 671.05,195.34 671.25,194.11 671.64,189.20 672.13,181.03 672.52,171.41 673.01,154.03 673.30,138.75 673.88,84.96 674.37,12.00 675.45,12.00 675.93,81.21 676.03,86.41 676.33,94.95 676.52,98.69 676.72,100.60 676.81,100.77 676.91,98.72 677.01,93.99 677.50,56.09 678.08,29.45 678.18,27.40 678.28,26.80 678.86,26.82 678.96,27.68 679.25,36.61 679.74,62.29 680.43,123.96 680.91,161.69 681.30,187.61 681.60,200.04 681.99,209.28 682.96,226.08 684.33,262.15 685.21,277.09 685.70,282.74 686.09,285.62 686.58,288.56 686.97,290.46 687.46,292.36 687.94,293.83 688.53,295.22 689.12,296.35 690.68,299.04 692.83,303.62 694.58,307.01 695.07,307.74 695.46,307.99 813.50,308.00 L813.50,308.00 L520.60,308.00 Z" fill="#ffff00" stroke="none"/>
<path d="M520.60,308.00 570.69,307.99 575.57,307.81 588.16,307.04 609.45,306.44 637.17,306.00 658.65,305.77 676.72,305.65 684.62,305.53 686.09,305.43 687.55,305.23 688.92,304.93 690.29,304.54 690.77,304.29 691.26,303.89 691.75,303.32 692.14,302.74 692.73,301.64 693.22,300.51 693.61,298.61 694.19,293.62 695.36,281.06 695.85,274.46 696.24,267.11 696.63,257.00 696.83,249.00 697.02,234.33 697.32,202.26 697.61,152.19 697.90,12.00 699.07,12.00 699.17,27.61 699.27,111.44 699.46,142.60 699.66,161.96 700.25,198.71 700.83,252.59 701.32,270.93 701.61,278.25 701.81,281.61 702.10,284.61 702.59,288.38 702.98,290.65 703.37,292.13 703.66,292.65 703.86,292.69 703.96,292.59 704.25,291.91 704.54,290.75 705.13,287.71 705.42,285.84 706.10,279.54 706.79,270.71 707.57,257.83 708.15,245.98 708.54,235.48 708.93,221.36 709.23,207.61 709.42,196.26 709.62,177.33 710.01,117.92 710.40,12.00 712.35,12.00 712.45,12.33 712.74,103.74 712.94,133.22 714.11,249.57 714.50,268.51 714.99,283.72 715.18,287.31 715.67,293.25 716.06,296.62 716.35,297.95 716.45,298.11 716.65,298.09 717.04,297.56 717.43,296.62 718.31,294.13 719.09,291.19 719.77,287.28 720.16,283.68 720.65,277.09 721.04,270.21 721.53,259.66 721.82,251.71 722.90,205.68 723.87,152.27 724.75,109.43 725.43,82.39 725.63,78.06 725.73,77.64 725.83,78.57 726.02,83.64 726.51,104.53 727.19,149.14 728.07,195.02 728.75,216.97 729.14,226.70 729.44,232.39 729.93,238.80 730.61,245.38 731.29,250.35 732.27,256.15 733.25,261.04 734.32,265.53 736.17,272.45 736.86,274.72 737.44,276.41 738.42,278.73 739.40,280.71 740.27,282.26 742.03,285.05 742.42,285.45 742.72,285.55 742.91,285.43 743.40,284.84 743.50,284.81 743.59,284.89 744.18,286.59 744.96,287.75 745.74,288.46 746.62,288.94 747.21,289.17 747.89,289.24 748.38,289.00 748.96,288.37 749.84,287.10 750.43,285.75 751.41,283.02 751.89,281.45 752.09,281.02 752.28,280.87 752.38,281.04 752.58,282.00 753.06,285.93 753.85,294.56 754.04,295.74 754.53,297.27 754.92,298.14 755.31,298.77 755.99,299.58 756.78,300.35 757.56,300.98 758.43,301.57 759.41,302.10 760.58,302.63 761.85,303.11 763.32,303.56 767.03,304.41 771.52,305.19 776.20,305.76 786.75,306.64 804.81,307.92 806.96,308.00 813.50,308.00 L813.50,308.00 L520.60,308.00 Z" fill="#808080" stroke="none"/>
</g>
<path d="M520.60,305.19 523.82,304.86 527.24,304.37 531.05,303.70 535.34,302.83 538.27,302.12 541.10,301.33 544.03,300.38 546.86,299.35 550.28,297.94 552.43,296.80 554.77,295.29 561.12,290.86 566.00,287.92 568.05,286.75 569.61,285.98 570.98,285.42 574.10,284.36 575.86,283.94 577.13,283.83 581.04,283.92 581.62,284.03 582.30,284.31 583.28,284.95 585.14,286.45 587.58,289.16 589.24,290.55 590.99,291.87 593.04,293.22 595.19,294.45 597.54,295.65 599.59,296.52 601.54,297.16 603.98,297.85 606.22,298.39 608.37,298.82 614.62,299.66 616.67,299.82 618.53,299.86 620.28,299.75 622.24,299.49 628.68,298.20 630.83,297.65 635.71,296.18 637.86,295.60 647.62,293.39 652.99,292.30 654.55,291.90 656.70,291.25 657.77,290.75 658.56,290.14 658.85,289.42 659.63,286.70 659.83,286.31 660.51,285.53 660.80,285.35 661.09,285.34 661.68,286.24 661.78,286.29 661.97,286.25 662.27,286.04 663.24,285.02 664.71,283.30 665.39,282.64 665.78,282.39 666.66,282.06 667.25,281.91 667.83,281.85 668.32,281.99 668.91,282.42 669.88,283.45 670.37,284.21 670.96,285.45 672.32,288.86 674.47,293.89 675.15,295.23 675.74,296.08 677.11,297.69 678.67,299.16 681.30,301.19 683.55,302.65 685.31,303.53 686.97,304.17 688.33,304.62 689.99,305.00 693.22,305.41 695.36,305.53 704.35,305.53 706.20,305.37 707.96,304.98 708.45,304.57 709.03,303.69 709.52,302.70 709.81,301.69 710.30,299.40 711.28,294.16 712.06,288.60 712.64,281.69 713.52,268.00 714.99,247.54 715.96,232.27 716.65,222.65 716.94,220.26 717.23,219.86 717.53,219.69 717.62,219.86 717.82,221.83 718.60,233.37 718.70,233.96 719.58,234.03 719.77,234.36 720.06,235.37 720.26,236.94 720.94,250.36 721.43,262.61 721.82,269.72 722.51,279.53 723.29,287.23 723.87,291.20 724.26,292.71 724.65,293.92 725.14,295.10 725.63,295.98 726.22,296.78 726.90,297.49 728.36,298.60 729.93,299.52 732.95,300.84 734.32,301.26 735.10,301.34 745.64,301.33 751.31,300.68 752.87,300.62 753.65,300.89 755.51,302.04 758.04,303.19 759.70,303.83 761.66,304.36 764.00,304.90 765.95,305.26 767.81,305.49 772.69,305.85 776.69,306.01 797.59,306.03 798.95,305.90 802.17,305.31 804.22,305.09 805.40,305.04 806.37,305.16 809.01,305.76 811.55,305.96 813.50,306.03" fill="none" stroke="#ff0000" stroke-width="0.9" stroke-linejoin="round"/>
<text x="530.6" y="26.6" font-size="10">(e) tot. 3d</text>
<rect x="549.4" y="188.3" width="26.6" height="7.6" fill="#ffff00"/>
<text x="582.7" y="195.9" font-size="10">GGA-</text><path d="M610.7,196.4 V188.6 M608.4,191.2 L610.7,188.5 L613,191.2" fill="none" stroke="#000" stroke-width="0.75"/>
<rect x="549.4" y="203.8" width="26.6" height="7.6" fill="#808080"/>
<text x="582.7" y="211.3" font-size="10">GGA-</text><path d="M611,204.3 V212.1 M608.7,209.5 L611,212.2 L613.3,209.5" fill="none" stroke="#000" stroke-width="0.75"/>
<path d="M549.4,223.3 H576" stroke="#ff0000" stroke-width="1.1"/>
<text x="582.7" y="226.6" font-size="10">OCA 3700 K</text>
<path d="M549.4,238 H576" stroke="#0000ff" stroke-width="0.9" stroke-dasharray="1,0.7"/>
<text x="582.7" y="241.6" font-size="10">OCA 120 K</text>
<rect x="548.50" y="60.20" width="115.20" height="96.60" fill="#fff"/>
<clipPath id="ci"><rect x="548.50" y="60.20" width="115.20" height="96.60"/></clipPath>
<g clip-path="url(#ci)">
<path d="M548.50,153.07 554.45,151.51 558.48,150.22 560.21,149.54 561.75,148.83 563.09,148.10 564.44,147.22 565.59,146.31 566.55,145.42 567.51,144.35 568.47,143.08 569.43,141.52 570.20,140.02 570.96,138.23 571.54,136.65 572.12,134.83 572.69,132.72 573.65,128.40 574.61,122.79 575.38,117.11 576.15,110.15 576.92,101.74 579.03,73.47 579.60,66.71 580.18,62.01 580.37,61.05 580.56,60.45 580.76,60.20 580.95,60.33 581.14,60.82 581.33,61.66 581.72,64.33 582.10,68.11 582.68,75.23 584.40,98.88 585.56,111.82 586.13,117.07 586.71,121.59 587.28,125.46 587.86,128.77 588.63,132.46 589.59,136.15 590.55,139.06 591.51,141.37 592.66,143.58 594.00,145.56 595.35,147.11 597.08,148.65 598.61,149.73 600.34,150.70 602.07,151.49 603.99,152.18 605.91,152.70 607.83,153.07 610.52,153.46 613.59,153.76 617.04,154.00 620.31,154.12 623.19,154.07 626.26,153.89 630.29,153.48 632.21,153.19 634.52,152.64 636.82,151.89 638.74,151.10 640.47,150.06 642.58,148.37 643.92,147.12 644.50,146.49 646.04,144.41 649.68,138.69 654.48,132.15 656.79,128.86 657.94,127.45 658.52,126.91 659.28,126.30 661.01,125.14 662.36,124.48 663.70,124.09 L663.70,156.80 L548.50,156.80 Z" fill="#808080" stroke="none"/>
<path d="M548.50,156.59 558.29,156.48 567.32,156.17 569.62,155.94 576.53,155.03 584.60,153.75 587.09,153.25 588.82,152.79 595.73,150.27 597.27,149.77 598.42,149.51 600.92,149.16 601.88,148.97 602.64,148.62 604.37,147.55 605.14,147.26 605.91,147.22 608.02,147.41 609.94,147.42 610.32,147.37 611.09,147.00 612.44,146.01 614.55,144.69 615.32,144.33 615.89,144.24 616.85,144.38 621.08,145.59 624.53,146.35 625.88,146.45 631.06,146.32 632.40,146.50 633.94,146.87 635.28,147.28 636.05,147.64 640.47,150.47 642.58,151.53 644.12,152.19 645.46,152.69 648.15,153.40 650.84,153.93 653.52,154.29 659.28,154.76 663.70,154.93" fill="none" stroke="#ff0000" stroke-width="1.1" stroke-linejoin="round"/>
<path d="M548.50,156.66 596.12,156.59 599.00,156.51 602.07,156.35 603.99,156.20 605.14,155.98 606.87,155.41 608.60,154.53 608.98,154.20 609.36,153.75 610.13,152.53 611.09,150.60 611.48,149.56 612.82,144.58 613.78,141.23 614.36,139.45 615.12,137.76 615.51,137.11 615.70,136.92 615.89,136.86 616.08,136.94 616.28,137.13 616.66,137.77 617.24,138.98 617.62,140.09 618.77,144.12 620.12,147.50 620.88,149.07 621.46,149.90 621.84,150.22 622.80,150.75 623.19,150.85 623.57,150.86 624.34,150.71 624.92,150.48 625.11,150.30 625.49,149.71 626.07,148.45 629.14,140.35 629.72,138.98 630.10,138.27 631.06,136.87 631.64,136.27 632.02,136.11 632.60,136.18 633.17,136.45 634.13,137.13 634.52,137.52 635.28,138.79 636.82,141.86 639.32,147.55 640.28,149.35 640.85,150.10 641.62,150.81 642.77,151.74 643.92,152.51 645.08,153.11 646.23,153.55 647.76,153.90 649.88,154.26 652.56,154.59 656.79,154.96 663.70,155.40" fill="none" stroke="#0000ff" stroke-width="0.9" stroke-dasharray="1,0.7" stroke-linejoin="round"/>
</g>
<rect x="548.50" y="60.20" width="115.20" height="96.60" fill="none" stroke="#1a1a1a" stroke-width="0.85"/>
<path d="M560.20,156.80 v-2.00" stroke="#1a1a1a" stroke-width="0.85"/>
<path d="M560.20,60.20 v2.00" stroke="#1a1a1a" stroke-width="0.85"/>
<text x="560.90" y="170.00" text-anchor="middle" font-size="10">-0.4</text>
<path d="M583.60,156.80 v-2.00" stroke="#1a1a1a" stroke-width="0.85"/>
<path d="M583.60,60.20 v2.00" stroke="#1a1a1a" stroke-width="0.85"/>
<text x="584.30" y="170.00" text-anchor="middle" font-size="10">-0.2</text>
<path d="M607.00,156.80 v-2.00" stroke="#1a1a1a" stroke-width="0.85"/>
<path d="M607.00,60.20 v2.00" stroke="#1a1a1a" stroke-width="0.85"/>
<text x="607.70" y="170.00" text-anchor="middle" font-size="10">0</text>
<path d="M630.40,156.80 v-2.00" stroke="#1a1a1a" stroke-width="0.85"/>
<path d="M630.40,60.20 v2.00" stroke="#1a1a1a" stroke-width="0.85"/>
<text x="631.10" y="170.00" text-anchor="middle" font-size="10">0.2</text>
<path d="M653.80,156.80 v-2.00" stroke="#1a1a1a" stroke-width="0.85"/>
<path d="M653.80,60.20 v2.00" stroke="#1a1a1a" stroke-width="0.85"/>
<text x="654.50" y="170.00" text-anchor="middle" font-size="10">0.4</text>
<text x="543.00" y="160.40" text-anchor="end" font-size="10">0</text>
<path d="M548.50,143.00 h2.00" stroke="#1a1a1a" stroke-width="0.85"/>
<path d="M663.70,143.00 h-2.00" stroke="#1a1a1a" stroke-width="0.85"/>
<text x="543.00" y="146.60" text-anchor="end" font-size="10">2</text>
<path d="M548.50,129.20 h2.00" stroke="#1a1a1a" stroke-width="0.85"/>
<path d="M663.70,129.20 h-2.00" stroke="#1a1a1a" stroke-width="0.85"/>
<text x="543.00" y="132.80" text-anchor="end" font-size="10">4</text>
<path d="M548.50,115.40 h2.00" stroke="#1a1a1a" stroke-width="0.85"/>
<path d="M663.70,115.40 h-2.00" stroke="#1a1a1a" stroke-width="0.85"/>
<text x="543.00" y="119.00" text-anchor="end" font-size="10">6</text>
<path d="M548.50,101.60 h2.00" stroke="#1a1a1a" stroke-width="0.85"/>
<path d="M663.70,101.60 h-2.00" stroke="#1a1a1a" stroke-width="0.85"/>
<text x="543.00" y="105.20" text-anchor="end" font-size="10">8</text>
<path d="M548.50,87.80 h2.00" stroke="#1a1a1a" stroke-width="0.85"/>
<path d="M663.70,87.80 h-2.00" stroke="#1a1a1a" stroke-width="0.85"/>
<text x="543.00" y="91.40" text-anchor="end" font-size="10">10</text>
<path d="M548.50,74.00 h2.00" stroke="#1a1a1a" stroke-width="0.85"/>
<path d="M663.70,74.00 h-2.00" stroke="#1a1a1a" stroke-width="0.85"/>
<text x="543.00" y="77.60" text-anchor="end" font-size="10">12</text>
<text x="543.00" y="63.80" text-anchor="end" font-size="10">14</text>
<text transform="translate(12,79.20) rotate(-90)" text-anchor="middle" font-size="10">A<tspan font-size="8.5" dy="2.5">d</tspan><tspan dy="-2.5">(&#969;) (1/eV)</tspan></text>
<text transform="translate(12,240.80) rotate(-90)" text-anchor="middle" font-size="10">A<tspan font-size="8.5" dy="2.5">d</tspan><tspan dy="-2.5">(&#969;) (1/eV)</tspan></text>
<text x="141.30" y="337.3" text-anchor="middle" font-size="10">&#969; (eV)</text>
<text x="375.20" y="337.3" text-anchor="middle" font-size="10">&#969; (eV)</text>
<text x="667.00" y="337.3" text-anchor="middle" font-size="10">&#969; (eV)</text>
</svg>
</body></html>
